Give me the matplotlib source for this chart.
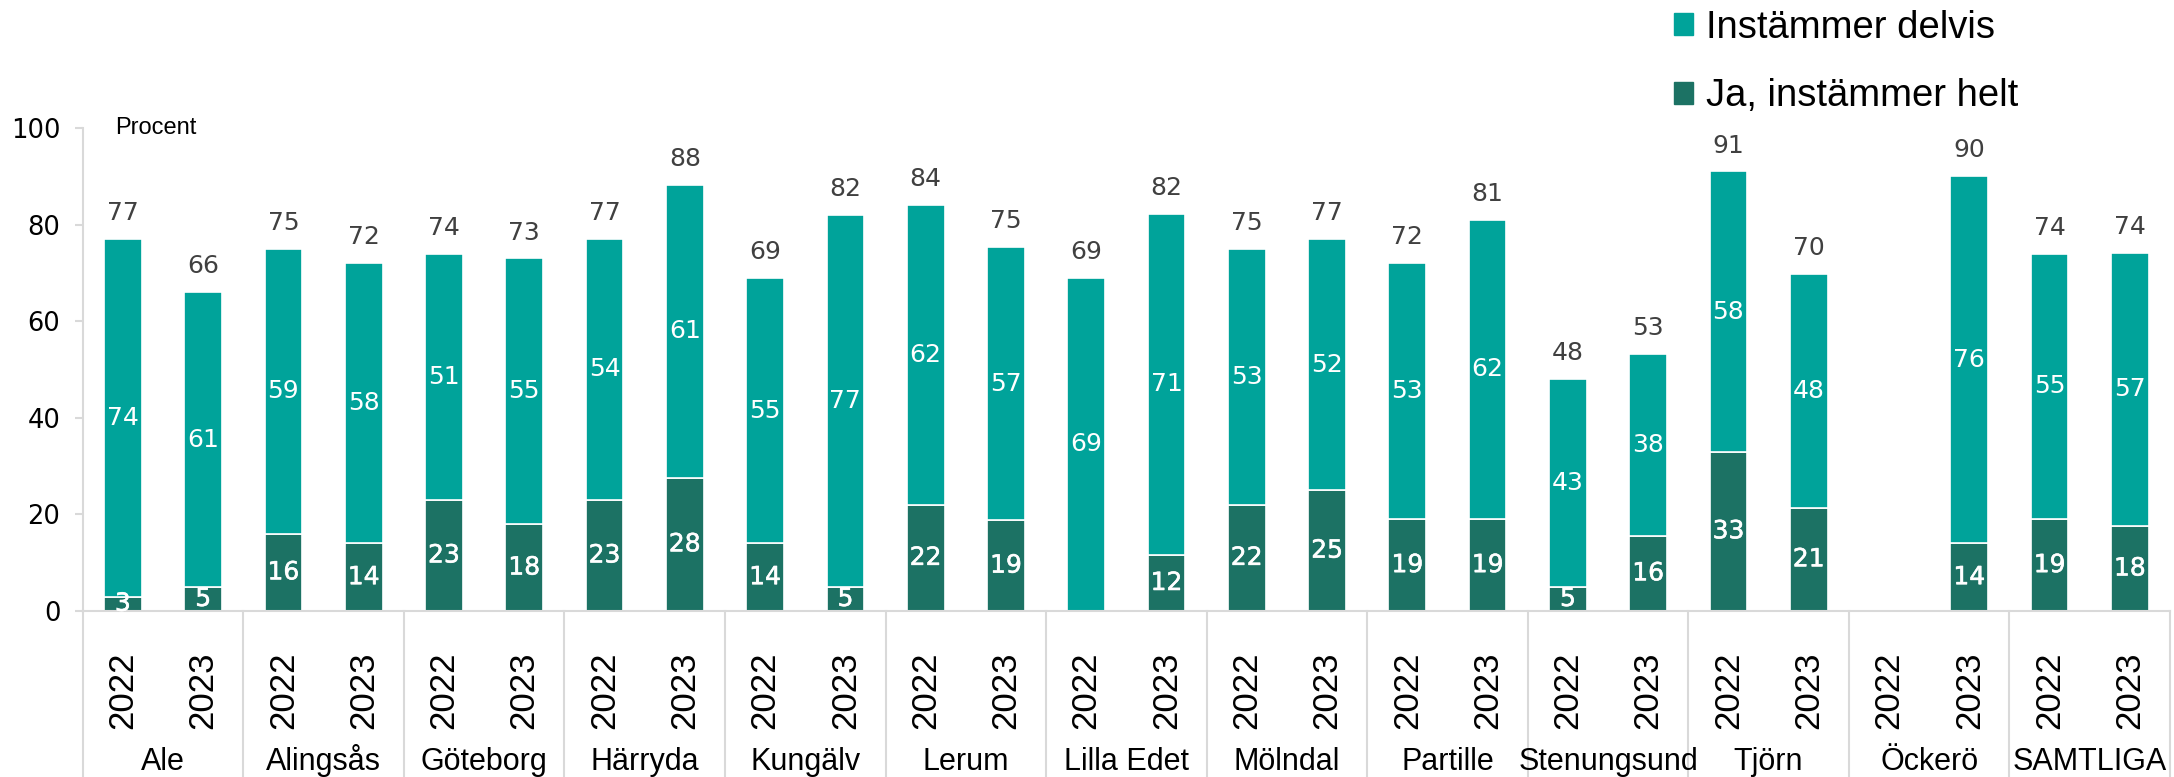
import numpy as np
import matplotlib
matplotlib.use("Agg")
import matplotlib.pyplot as plt
from matplotlib.patches import Patch
import matplotlib.patheffects as pe

# kommuner och år
kommuner = ["Ale", "Alingsås", "Göteborg", "Härryda", "Kungälv", "Lerum",
            "Lilla Edet", "Mölndal", "Partille", "Stenungsund", "Tjörn",
            "Öckerö", "SAMTLIGA"]
ar = ["2022", "2023"]

# Ja, instämmer helt (mörk) - None = inget värde
helt = [3, 5, 16, 14, 23, 18, 23, 27.6, 14, 5, 22, 18.8, None, 11.6,
        22, 25, 19, 19, 5, 15.6, 33, 21.4, None, 14, 19, 17.6]
# Instämmer delvis (ljus)
delvis = [74, 61, 59, 58, 51, 55, 54, 60.6, 55, 77, 62, 56.6, 69, 70.6,
          53, 52, 53, 62, 43, 37.6, 58, 48.4, None, 76, 55, 56.6]
# summor ovanför staplarna
totalt = [77, 66, 75, 72, 74, 73, 77, 88, 69, 82, 84, 75, 69, 82,
          75, 77, 72, 81, 48, 53, 91, 70, None, 90, 74, 74]

TEAL = "#00A39A"
MORK = "#1C7264"
GRA = "#d9d9d9"

helt_a = np.array([np.nan if v is None else v for v in helt], dtype=float)
delvis_a = np.array([np.nan if v is None else v for v in delvis], dtype=float)
x = np.arange(len(helt_a))

W, H = 2174, 777
fig = plt.figure(figsize=(W / 100, H / 100), dpi=100)
ax = fig.add_axes([82.7 / W, 1 - 611 / H, (2170 - 82.7) / W, 483 / H])

ax.bar(x, helt_a, width=0.47, color=MORK, edgecolor="white", linewidth=1.2)
ax.bar(x, delvis_a, width=0.47, bottom=np.nan_to_num(helt_a), color=TEAL,
       edgecolor="white", linewidth=1.2)

lblfont = dict(family="DejaVu Sans", fontsize=18)
fet = [pe.withStroke(linewidth=0.4, foreground="white")]
for i in x:
    h = helt_a[i]
    d = delvis_a[i]
    if not np.isnan(h):
        ax.text(i, h / 2, f"{h:.0f}", ha="center", va="center", color="white",
                path_effects=fet, **lblfont)
    if not np.isnan(d):
        ax.text(i, np.nan_to_num(h) + d / 2, f"{d:.0f}", ha="center", va="center",
                color="white", **lblfont)
    if totalt[i] is not None:
        top = np.nan_to_num(h) + np.nan_to_num(d)
        ax.annotate(f"{totalt[i]}", (i, top), xytext=(0, 10), textcoords="offset points",
                    ha="center", va="bottom", color="#404040", **lblfont)

ax.set_xlim(-0.5, len(x) - 0.5)
ax.set_ylim(0, 100)
ax.set_yticks(range(0, 101, 20))
ax.set_xticks([])
ax.tick_params(axis="y", length=6, width=1.5, color=GRA, pad=10, labelsize=18.5)
for t in ax.get_yticklabels():
    t.set_family("DejaVu Sans")
for s in ["top", "right"]:
    ax.spines[s].set_visible(False)
for s in ["left", "bottom"]:
    ax.spines[s].set_color(GRA)
    ax.spines[s].set_linewidth(1.5)

ax.text((115 - 82.7) / (2170 - 82.7), 1.0, "Procent", transform=ax.transAxes,
        fontsize=17, family="Liberation Sans", va="center", ha="left")

# kategorietiketter under axeln
tr = ax.get_xaxis_transform()
for i in x:
    ax.text(i, -0.165, ar[i % 2], rotation=90, ha="center", va="center",
            fontsize=25, family="Liberation Sans", transform=tr)
for k, namn in enumerate(kommuner):
    ax.text(2 * k + 0.5, -0.329, namn, ha="center", va="baseline",
            fontsize=22, family="Liberation Sans", transform=tr)
for k in range(len(kommuner) + 1):
    ax.plot([2 * k - 0.5] * 2, [0, -0.4], color=GRA, lw=1.5, transform=tr,
            clip_on=False)

handles = [Patch(color=TEAL, label="Instämmer delvis"),
           Patch(color=MORK, label="Ja, instämmer helt")]
fig.legend(handles=handles, loc="upper left", bbox_to_anchor=(1670 / W, 1 - 6 / H),
           frameon=False, prop={"family": "Liberation Sans", "size": 27.5},
           handlelength=0.5, handleheight=0.5, handletextpad=0.35,
           labelspacing=0.85, borderpad=0.1, borderaxespad=0)

fig.savefig("out.png", dpi=100)
